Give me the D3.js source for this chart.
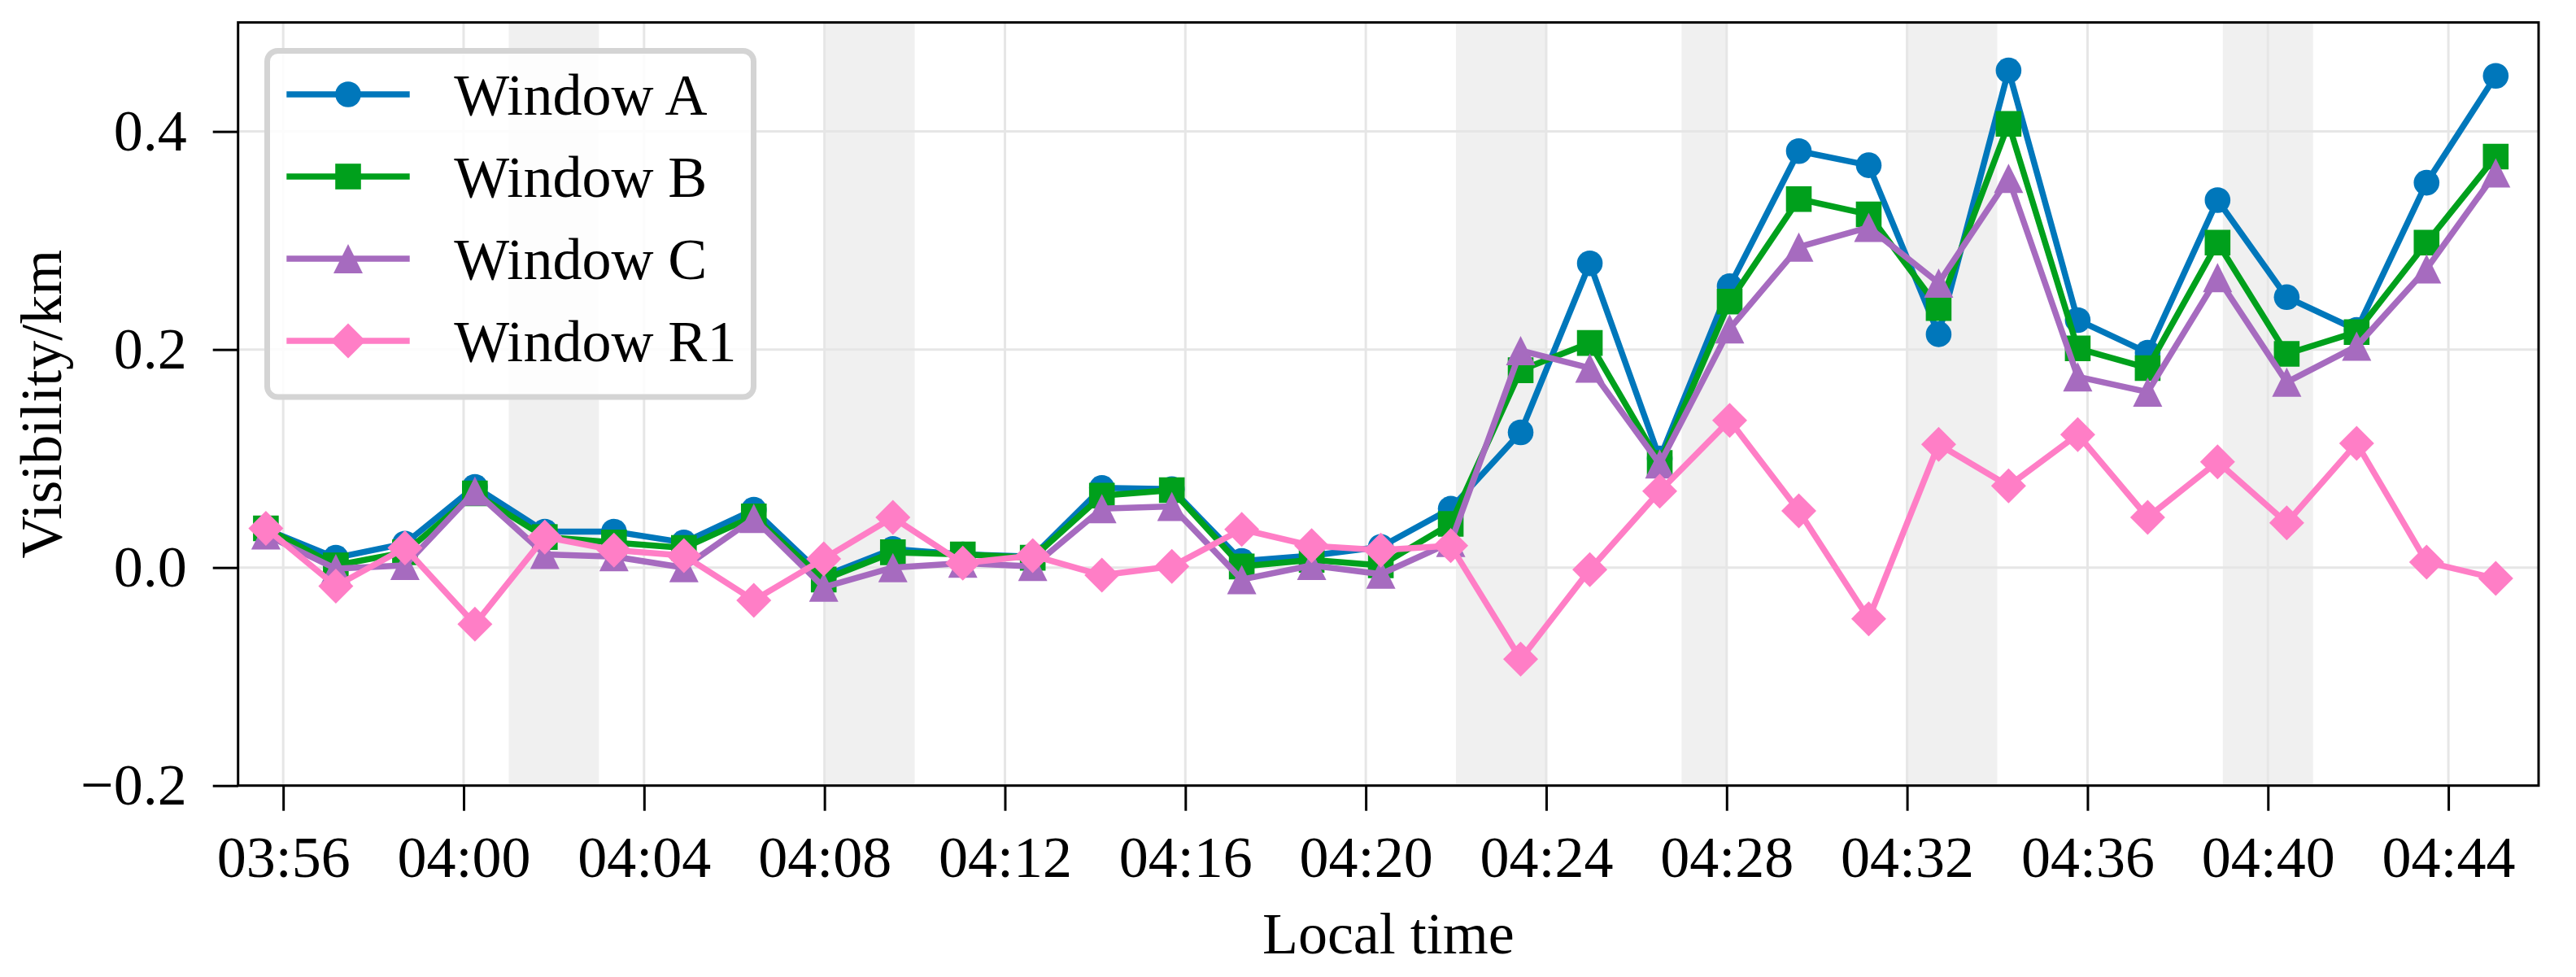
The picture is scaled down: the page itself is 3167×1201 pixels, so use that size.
<!DOCTYPE html>
<html>
<head>
<meta charset="utf-8">
<script src="https://cdn.jsdelivr.net/npm/d3@7"></script>
<style>
    body { margin: 0; background: #ffffff; }
    svg { display: block; }
    text { font-family: "Liberation Serif", "Times New Roman", serif; }
</style>
</head>
<body>
<div id="chart"></div>
<script>
// Sample times (local) and visibility values per window
const times = [
    "03:55:37", "03:57:10", "03:58:42", "04:00:15", "04:01:48", "04:03:20", "04:04:53",
    "04:06:26", "04:07:59", "04:09:31", "04:11:04", "04:12:37", "04:14:09", "04:15:42",
    "04:17:15", "04:18:48", "04:20:20", "04:21:53", "04:23:26", "04:24:58", "04:26:31",
    "04:28:04", "04:29:36", "04:31:09", "04:32:42", "04:34:15", "04:35:47", "04:37:20",
    "04:38:53", "04:40:25", "04:41:58", "04:43:31", "04:45:03"
];
const windowA = [
    0.035, 0.009, 0.022, 0.074, 0.033, 0.033, 0.023, 0.053, -0.008, 0.017, 0.012,
    0.010, 0.073, 0.072, 0.006, 0.011, 0.019, 0.054, 0.124, 0.279, 0.100, 0.258,
    0.382, 0.369, 0.214, 0.456, 0.227, 0.197, 0.337, 0.248, 0.218, 0.353, 0.451
];
const windowB = [
    0.036, 0.002, 0.014, 0.068, 0.028, 0.023, 0.018, 0.047, -0.011, 0.014, 0.012,
    0.009, 0.066, 0.071, 0.001, 0.007, 0.002, 0.040, 0.181, 0.206, 0.096, 0.244,
    0.338, 0.324, 0.238, 0.407, 0.201, 0.183, 0.298, 0.196, 0.216, 0.298, 0.377
];
const windowC = [
    0.030, -0.001, 0.002, 0.070, 0.012, 0.010, 0.000, 0.045, -0.018, 0.000, 0.004,
    0.001, 0.054, 0.056, -0.011, 0.002, -0.006, 0.023, 0.199, 0.183, 0.095, 0.219,
    0.294, 0.312, 0.261, 0.357, 0.175, 0.161, 0.266, 0.170, 0.203, 0.274, 0.362
];
const windowR1 = [
    0.036, -0.017, 0.018, -0.052, 0.028, 0.016, 0.011, -0.030, 0.008, 0.046, 0.004,
    0.011, -0.007, 0.001, 0.035, 0.020, 0.016, 0.020, -0.084, -0.002, 0.070, 0.135,
    0.052, -0.047, 0.113, 0.075, 0.122, 0.046, 0.097, 0.041, 0.114, 0.005, -0.010
];

// Grey background bands (start, end)
const shadedSpans = [
    ["04:01", "04:03"], ["04:08", "04:10"], ["04:22", "04:24"],
    ["04:27", "04:28"], ["04:32", "04:34"], ["04:39", "04:41"]
];

const xLimits = ["03:55", "04:46"];
const yLimits = [-0.2, 0.5];
const yTicks = [-0.2, 0.0, 0.2, 0.4];

const seriesNames = ["Window A", "Window B", "Window C", "Window R1"];
const seriesValues = [windowA, windowB, windowC, windowR1];

// Styling per series
const seriesStyle = [
    { color: "#0077bb", marker: "circle" },
    { color: "#00a01c", marker: "square" },
    { color: "#a66bbf", marker: "triangle" },
    { color: "#ff7ec6", marker: "diamond" }
];

// Parse "HH:MM" or "HH:MM:SS" onto a fixed day
const parseTime = (s) => {
    const p = s.split(":").map(Number);
    return new Date(2000, 0, 1, p[0], p[1], p[2] || 0);
};

// Marker path centred on (0,0)
const markerPath = (shape) => {
    const r = 15.8;
    if (shape === "circle") return d3.symbol(d3.symbolCircle, Math.PI * r * r)();
    if (shape === "square") return `M${-r},${-r}H${r}V${r}H${-r}Z`;
    if (shape === "triangle") {
        const h = 18;
        return `M0,${-h}L${h},${h}L${-h},${h}Z`;
    }
    const d = 21.5;
    return `M0,${-d}L${d},0L0,${d}L${-d},0Z`;
};

const createChart = () => {
    const width = 3167, height = 1201;
    const margin = { top: 27.6, right: 3167 - 3121, bottom: 1201 - 965.7, left: 292.7 };
    const innerW = width - margin.left - margin.right;
    const innerH = height - margin.top - margin.bottom;
    const fontSize = 72;
    const lineWidth = 7.5;

    const svg = d3.select("#chart").append("svg")
        .attr("width", width)
        .attr("height", height)
        .attr("viewBox", `0 0 ${width} ${height}`);

    const g = svg.append("g")
        .attr("transform", `translate(${margin.left},${margin.top})`);

    const x = d3.scaleTime()
        .domain(xLimits.map(parseTime))
        .range([0, innerW]);
    const y = d3.scaleLinear()
        .domain(yLimits)
        .range([innerH, 0]);

    // Shaded bands
    g.append("g").selectAll("rect")
        .data(shadedSpans)
        .enter()
        .append("rect")
        .attr("x", d => x(parseTime(d[0])))
        .attr("width", d => x(parseTime(d[1])) - x(parseTime(d[0])))
        .attr("y", 0)
        .attr("height", innerH)
        .attr("fill", "#f0f0f0");

    const xTicks = d3.timeMinute.every(4).range(...xLimits.map(parseTime));

    // Grid
    g.append("g").selectAll("line")
        .data(xTicks)
        .enter()
        .append("line")
        .attr("x1", d => x(d)).attr("x2", d => x(d))
        .attr("y1", 0).attr("y2", innerH)
        .attr("stroke", "#e6e6e6")
        .attr("stroke-width", 3);
    g.append("g").selectAll("line")
        .data(yTicks)
        .enter()
        .append("line")
        .attr("x1", 0).attr("x2", innerW)
        .attr("y1", d => y(d)).attr("y2", d => y(d))
        .attr("stroke", "#e6e6e6")
        .attr("stroke-width", 3);

    // Axes
    const xAxis = g.append("g")
        .attr("transform", `translate(0,${innerH})`)
        .call(d3.axisBottom(x).tickValues(xTicks).tickFormat(d3.timeFormat("%H:%M"))
            .tickSize(31).tickPadding(30));
    const yAxis = g.append("g")
        .call(d3.axisLeft(y).tickValues(yTicks).tickFormat(d3.format(".1f"))
            .tickSize(31).tickPadding(32));

    [xAxis, yAxis].forEach(ax => {
        ax.select(".domain").remove();
        ax.selectAll(".tick line").attr("stroke", "#000").attr("stroke-width", 3);
        ax.selectAll(".tick text")
            .attr("fill", "#000")
            .style("font-family", '"Liberation Serif", serif')
            .style("font-size", `${fontSize}px`);
    });

    // Series lines and markers
    const line = d3.line()
        .x(d => x(d.t))
        .y(d => y(d.v));

    seriesValues.forEach((values, i) => {
        const pts = values.map((v, j) => ({ t: parseTime(times[j]), v }));
        const style = seriesStyle[i];
        const sg = g.append("g");
        sg.append("path")
            .datum(pts)
            .attr("d", line)
            .attr("fill", "none")
            .attr("stroke", style.color)
            .attr("stroke-width", lineWidth)
            .attr("stroke-linejoin", "round")
            .attr("stroke-linecap", "round");
        sg.selectAll("path.marker")
            .data(pts)
            .enter()
            .append("path")
            .attr("class", "marker")
            .attr("d", markerPath(style.marker))
            .attr("transform", d => `translate(${x(d.t)},${y(d.v)})`)
            .attr("fill", style.color);
    });

    // Frame
    g.append("rect")
        .attr("x", 0).attr("y", 0)
        .attr("width", innerW).attr("height", innerH)
        .attr("fill", "none")
        .attr("stroke", "#000")
        .attr("stroke-width", 3);

    // Axis labels
    svg.append("text")
        .attr("x", margin.left + innerW / 2)
        .attr("y", 1172)
        .attr("text-anchor", "middle")
        .style("font-size", `${fontSize}px`)
        .text("Local time");
    svg.append("text")
        .attr("transform", `translate(75,${margin.top + innerH / 2}) rotate(-90)`)
        .attr("text-anchor", "middle")
        .style("font-size", `${fontSize}px`)
        .text("Visibility/km");

    // Legend
    const legend = svg.append("g").attr("transform", "translate(328.5,62.5)");
    legend.append("rect")
        .attr("width", 598)
        .attr("height", 425.5)
        .attr("rx", 13)
        .attr("fill", "#ffffff")
        .attr("fill-opacity", 0.85)
        .attr("stroke", "#d4d4d4")
        .attr("stroke-width", 7);

    seriesNames.forEach((name, i) => {
        const style = seriesStyle[i];
        const row = legend.append("g")
            .attr("transform", `translate(0,${53.5 + i * 101})`);
        row.append("line")
            .attr("x1", 23.8).attr("x2", 175.2)
            .attr("stroke", style.color)
            .attr("stroke-width", lineWidth);
        row.append("path")
            .attr("d", markerPath(style.marker))
            .attr("transform", "translate(99.5,0)")
            .attr("fill", style.color);
        row.append("text")
            .attr("x", 229.8)
            .attr("dy", "0.35em")
            .style("font-size", `${fontSize}px`)
            .text(name);
    });
};

createChart();
</script>
</body>
</html>
